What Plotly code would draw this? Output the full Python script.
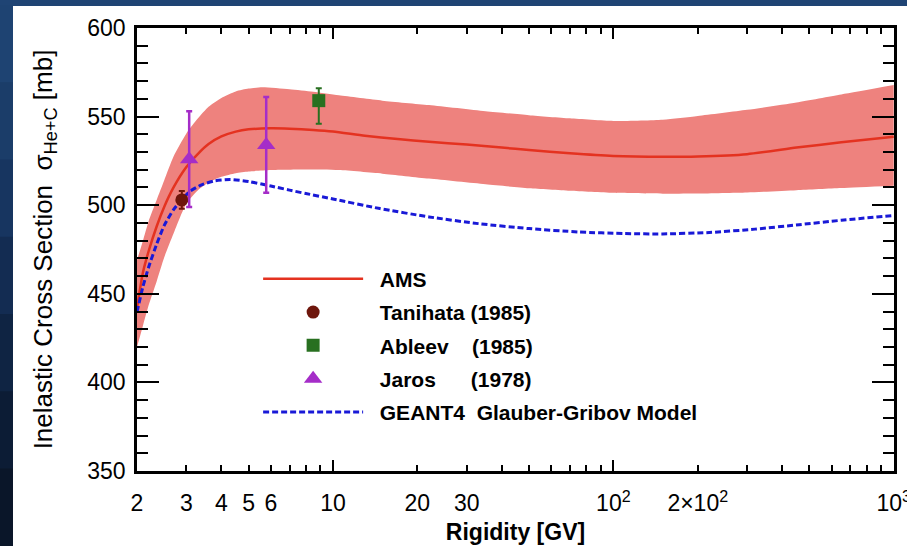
import plotly.graph_objects as go

# ---- data ----
ams_x = [2.0, 2.1, 2.2, 2.35, 2.5, 2.7, 3.0, 3.3, 3.6, 4.0, 4.5, 5.0, 6.0, 7.0, 8.5, 10, 13, 17, 22, 30, 40, 50, 70, 100, 150, 200, 300, 450, 650, 1000]
ams_y = [442, 462, 474, 488, 499, 510, 521.5, 529, 534.5, 538.8, 541.5, 542.8, 543.4, 543.2, 542.5, 541.6, 539.2, 537.3, 535.8, 534.2, 532.5, 531.2, 529.3, 527.8, 527.3, 527.5, 528.8, 532.5, 535.5, 538.6]

band_up_x = [2.0, 2.1, 2.2, 2.35, 2.5, 2.7, 3.0, 3.3, 3.6, 4.0, 4.5, 5.0, 5.6, 7.0, 8.5, 10.5, 15, 22, 35, 50, 70, 100, 150, 200, 300, 450, 650, 1000]
band_up_y = [469, 480, 491, 503, 514, 527.5, 540.5, 549, 555.5, 560.5, 564.2, 565.8, 566.5, 565.4, 564, 562, 559, 556.5, 553, 550.8, 549, 547.5, 548.2, 550.3, 553.8, 558, 562.5, 567.8]

band_lo_x = [2.0, 2.1, 2.2, 2.35, 2.5, 2.7, 3.0, 3.3, 3.6, 4.0, 4.5, 5.0, 6.0, 8.0, 10.5, 15, 22, 35, 50, 70, 100, 150, 200, 300, 450, 650, 1000]
band_lo_y = [420, 432, 443.5, 457, 470.5, 484, 501, 508.5, 512.8, 516, 518, 519, 519.8, 520.1, 519.8, 517.8, 515, 511.8, 509.6, 508.2, 507, 506.5, 506.6, 507.2, 508.5, 509.7, 511]

geant_x = [2.0, 2.1, 2.2, 2.35, 2.5, 2.7, 2.9, 3.1, 3.4, 3.8, 4.3, 5.0, 6.0, 7.0, 8.0, 10, 14.7, 22, 33, 50, 75, 110, 150, 220, 320, 460, 650, 1000]
geant_y = [439.7, 454, 465, 478, 488.5, 497.5, 503.5, 508, 511.5, 513.8, 514.5, 513.4, 510.8, 508.5, 506.6, 503.5, 498.1, 493.4, 489.6, 486.8, 484.9, 484, 483.8, 484.6, 486.5, 489, 491.5, 494.2]

tan_x = [2.89]
tan_y = [503]
tan_err = [5]

abl_x = [8.9]
abl_y = [559]
abl_err_plus = [7]
abl_err_minus = [13]

jar_x = [3.07, 5.78]
jar_y = [526, 534]
jar_err = [27, 27]

x_tickvals = [2, 3, 4, 5, 6, 10, 20, 30, 100, 200, 1000]
x_ticktext = ["2", "3", "4", "5", "6", "10", "20", "30", "10<sup>2</sup>", "2\u00d710<sup>2</sup>", "10<sup>3</sup>"]
x_minor_vals = [7, 8, 9, 40, 50, 60, 70, 80, 90, 300, 400, 500, 600, 700, 800, 900]
x_major_vals = [10, 100, 1000]

FONT = "Liberation Sans"
PAD = "\u00a0\u00a0"

fig = go.Figure()

# AMS band
fig.add_trace(go.Scatter(x=band_up_x, y=band_up_y, mode="lines", line=dict(width=0, color="rgba(0,0,0,0)", shape="spline", smoothing=0.6),
                         showlegend=False, hoverinfo="skip"))
fig.add_trace(go.Scatter(x=band_lo_x, y=band_lo_y, mode="lines", line=dict(width=0, color="rgba(0,0,0,0)", shape="spline", smoothing=0.6),
                         fill="tonexty", fillcolor="rgb(238,130,126)", showlegend=False, hoverinfo="skip"))

fig.add_trace(go.Scatter(x=ams_x, y=ams_y, mode="lines", name=PAD + "AMS",
                         line=dict(color="rgb(228,50,32)", width=2.5, shape="spline", smoothing=0.6),
                         legendrank=1, legendgroup="a"))
fig.add_trace(go.Scatter(x=geant_x, y=geant_y, mode="lines", name=PAD + "GEANT4  Glauber-Gribov Model",
                         line=dict(color="rgb(25,25,215)", width=3, dash="6px,3px", shape="spline", smoothing=0.6),
                         legendrank=5, legendgroup="e"))

fig.add_trace(go.Scatter(x=tan_x, y=tan_y, mode="markers", name=PAD + "Tanihata (1985)",
                         marker=dict(symbol="circle", size=13, color="rgb(110,22,12)"),
                         error_y=dict(type="data", array=tan_err, color="rgb(110,22,12)", thickness=2, width=3),
                         legendrank=2, legendgroup="b"))
fig.add_trace(go.Scatter(x=abl_x, y=abl_y, mode="markers", name=PAD + "Ableev    (1985)",
                         marker=dict(symbol="square", size=13, color="rgb(40,112,32)"),
                         error_y=dict(type="data", symmetric=False, array=abl_err_plus, arrayminus=abl_err_minus,
                                      color="rgb(40,112,32)", thickness=2, width=3),
                         legendrank=3, legendgroup="c"))
fig.add_trace(go.Scatter(x=jar_x, y=jar_y, mode="markers", name=PAD + "Jaros      (1978)",
                         marker=dict(symbol="triangle-up", size=16, color="rgb(165,45,200)"),
                         error_y=dict(type="data", array=jar_err, color="rgb(165,45,200)", thickness=2.5, width=3),
                         legendrank=4, legendgroup="d"))

# dummy trace to carry the long-tick overlay axis
fig.add_trace(go.Scatter(x=[None], y=[None], xaxis="x2", showlegend=False, hoverinfo="skip"))

XR = [0.30103, 3.001]
fig.update_layout(
    width=907, height=546,
    margin=dict(l=137, r=13, t=28, b=75, autoexpand=False),
    paper_bgcolor="white", plot_bgcolor="white",
    font=dict(family=FONT, color="black"),
    showlegend=True,
    legend=dict(x=0.16, y=0.4795, xanchor="left", yanchor="top", bgcolor="rgba(0,0,0,0)",
                font=dict(family=FONT, size=21, color="black", weight="bold"),
                itemwidth=100, tracegroupgap=3, traceorder="grouped"),
    xaxis=dict(type="log", range=XR, showline=True, linecolor="black", linewidth=2.5, mirror="ticks",
               ticks="inside", ticklen=6, tickwidth=2, tickcolor="black",
               tickmode="array", tickvals=x_tickvals, ticktext=x_ticktext, ticklabeloverflow="allow",
               tickfont=dict(size=23, family=FONT), ticklabelstandoff=10, automargin=False,
               minor=dict(tickmode="array", tickvals=x_minor_vals, ticks="inside", ticklen=6, tickwidth=2, tickcolor="black"),
               showgrid=False, zeroline=False,
               title=dict(text="<b>Rigidity [GV]</b>", font=dict(size=23, family=FONT), standoff=9)),
    xaxis2=dict(type="log", range=XR, overlaying="x", anchor="y", side="bottom", automargin=False,
                showline=False, mirror="ticks", ticks="inside", ticklen=11, tickwidth=2, tickcolor="black",
                tickmode="array", tickvals=x_major_vals, showticklabels=False, showgrid=False, zeroline=False),
    yaxis=dict(range=[350, 600], showline=True, linecolor="black", linewidth=2.5, mirror="ticks",
               ticks="inside", ticklen=22, tickwidth=2, tickcolor="black", dtick=50, tick0=350,
               tickfont=dict(size=23, family=FONT), ticklabelstandoff=4, automargin=False,
               minor=dict(dtick=10, ticks="inside", ticklen=11, tickwidth=2, tickcolor="black"),
               showgrid=False, zeroline=False,
               title=dict(text="Inelastic Cross Section  \u03c3<sub>He+C</sub> [mb]", font=dict(size=26, family=FONT), standoff=28)),
)

# slide background strips (dark blue) around the white panel
strip_cols = ["#1e4372", "#1b3d69", "#173560", "#132c52", "#0f2443", "#0c1c35", "#0a1629"]
n = len(strip_cols)
y_top = 1.0633
y_bot = -0.1706
fig.add_shape(type="rect", xref="paper", yref="paper", x0=-0.19, x1=1.02, y0=1.0497, y1=y_top + 0.01,
              fillcolor="#1f4474", line=dict(width=0), layer="below")
for i, c in enumerate(strip_cols):
    y1 = 1.0497 - i * (1.0497 - y_bot) / n
    y0 = 1.0497 - (i + 1) * (1.0497 - y_bot) / n
    fig.add_shape(type="rect", xref="paper", yref="paper", x0=-0.19, x1=-0.1638, y0=y0 - 0.002, y1=y1 + 0.002,
                  fillcolor=c, line=dict(width=0), layer="below")

fig.write_html("out.html")
